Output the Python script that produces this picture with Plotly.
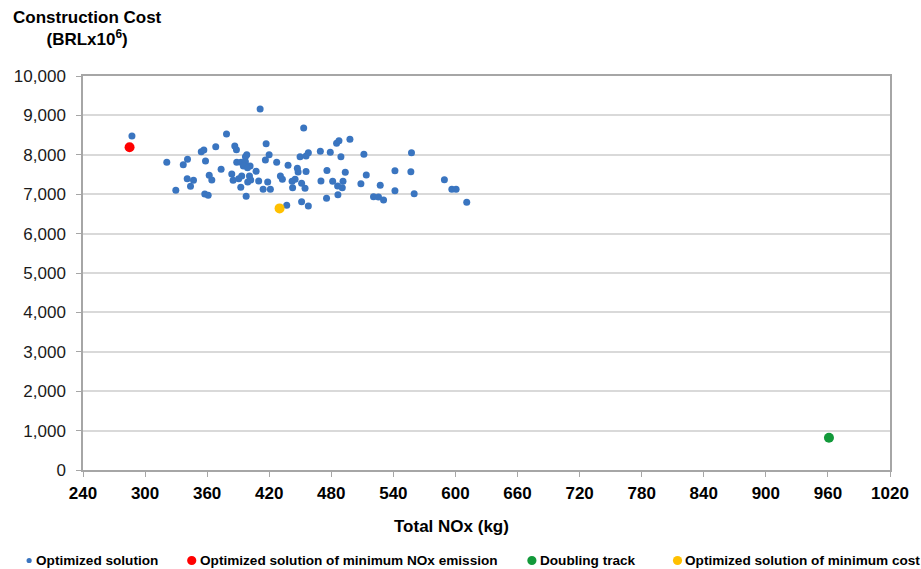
import plotly.graph_objects as go

# Optimized solutions: total NOx emission (kg) and construction cost (BRL x 10^6)
opt_nox = [
    287.3, 321.0, 341.0, 336.9, 354.3, 356.8, 358.4, 368.3, 340.7, 346.8,
    343.9, 362.0, 364.5, 329.7, 357.7, 361.0,
    411.2, 378.7, 386.7, 388.3, 417.0, 419.9, 416.3, 398.3, 397.0, 388.6,
    392.8, 397.0, 395.0, 401.5, 427.2, 438.2, 447.2, 447.9, 373.5, 383.8,
    385.1, 390.5, 393.4, 400.9, 402.1, 399.2, 407.3, 409.8, 418.5, 430.8,
    432.7, 442.1, 445.0, 442.6, 392.5, 414.1, 421.1, 397.7, 436.9, 399.0,
    453.3, 485.1, 487.4, 498.0, 449.8, 455.6, 457.8, 469.4, 479.0, 489.3,
    511.5, 455.6, 451.3, 454.6, 475.8, 470.0, 481.3, 486.1, 490.6, 491.3,
    493.5, 508.6, 513.8, 527.3, 486.4, 475.4, 451.3, 457.8, 520.8, 525.6,
    530.5,
    557.5, 541.5, 556.9, 589.3, 541.5, 560.1, 596.5, 600.6, 610.9,
]
opt_cost = [
    8477, 7810, 7886, 7750, 8080, 8122, 7843, 8206, 7394, 7352,
    7200, 7479, 7360, 7099, 7005, 6972,
    9162, 8528, 8223, 8130, 8282, 8003, 7868, 8003, 7952, 7810,
    7810, 7825, 7716, 7716, 7810, 7733, 7657, 7563, 7632, 7513,
    7352, 7394, 7462, 7462, 7360, 7310, 7580, 7335, 7310, 7462,
    7378, 7327, 7378, 7165, 7175, 7124, 7124, 6946, 6718, 7670,
    8680, 8292, 8358, 8393, 7952, 7970, 8054, 8088, 8063, 7952,
    8013, 7576, 7277, 7150, 7604, 7335, 7327, 7208, 7165, 7327,
    7556, 7267, 7487, 7226, 6987, 6896, 6810, 6700, 6937, 6929,
    6853,
    8054, 7596, 7571, 7368, 7090, 7013, 7124, 7124, 6794,
]

# Highlighted solutions
min_nox_nox, min_nox_cost = [285], [8190]
doubling_nox, doubling_cost = [961], [820]
min_cost_nox, min_cost_cost = [430], [6640]

series_names = [
    "Optimized solution",
    "Optimized solution of minimum NOx emission",
    "Doubling track",
    "Optimized solution of minimum cost",
]
series_colors = ["#3A75C0", "#FF0000", "#12993A", "#FFC000"]

x_ticks = list(range(240, 1021, 60))
y_ticks = list(range(0, 10001, 1000))

FONT = "Liberation Sans, Arial, sans-serif"

# Plot-area geometry in pixels (used to place the header and key)
W, H = 921, 569
L, R, T, B = 83, 29, 76, 99
PW, PH = W - L - R, H - T - B


def px_x(px):
    return (px - L) / PW


def px_y(py):
    return (H - B - py) / PH


fig = go.Figure()
fig.add_trace(go.Scatter(
    x=opt_nox, y=opt_cost, mode="markers", name=series_names[0],
    marker=dict(color=series_colors[0], size=7),
))
fig.add_trace(go.Scatter(
    x=min_nox_nox, y=min_nox_cost, mode="markers", name=series_names[1],
    marker=dict(color=series_colors[1], size=10),
))
fig.add_trace(go.Scatter(
    x=doubling_nox, y=doubling_cost, mode="markers", name=series_names[2],
    marker=dict(color=series_colors[2], size=10),
))
fig.add_trace(go.Scatter(
    x=min_cost_nox, y=min_cost_cost, mode="markers", name=series_names[3],
    marker=dict(color=series_colors[3], size=10),
))

annotations = [
    dict(
        xref="paper", yref="paper", x=px_x(88), y=px_y(29),
        xanchor="center", yanchor="middle", align="center",
        text="<b>Construction Cost<br>(BRLx10<sup>6</sup>)</b>",
        showarrow=False, font=dict(size=17, color="#000000"),
    ),
    dict(
        xref="paper", yref="paper", x=px_x(452), y=px_y(526),
        xanchor="center", yanchor="middle",
        text="<b>Total NOx (kg)</b>",
        showarrow=False, font=dict(size=17, color="#000000"),
    ),
]

# Single-row key below the axis title
key_dot_x = [29, 192, 533, 679]
key_text_x = [34, 198, 539, 684]
key_radius = [2.6, 4.6, 4.6, 4.6]
key_y = 560.5
shapes = []
for name, color, dx, tx, r in zip(series_names, series_colors, key_dot_x, key_text_x, key_radius):
    shapes.append(dict(
        type="circle", xref="paper", yref="paper",
        xsizemode="pixel", ysizemode="pixel",
        xanchor=px_x(dx), yanchor=px_y(key_y),
        x0=-r, x1=r, y0=-r, y1=r,
        fillcolor=color, line=dict(width=0),
    ))
    annotations.append(dict(
        xref="paper", yref="paper", x=px_x(tx), y=px_y(key_y),
        xanchor="left", yanchor="middle",
        text="<b>" + name + "</b>",
        showarrow=False, font=dict(size=13.6, color="#000000"),
    ))

fig.update_layout(
    width=W, height=H,
    margin=dict(l=L, r=R, t=T, b=B),
    paper_bgcolor="white", plot_bgcolor="white",
    font=dict(family=FONT, color="#000000"),
    showlegend=False,
    xaxis=dict(
        range=[240, 1020], tickvals=x_ticks,
        showgrid=False, zeroline=False,
        showline=True, linecolor="#A6A6A6", linewidth=1.5, mirror=True,
        ticks="outside", ticklen=5, tickcolor="#A6A6A6",
        ticklabelstandoff=2,
        tickfont=dict(size=17, weight="bold", color="#000000"),
    ),
    yaxis=dict(
        range=[0, 10000], tickvals=y_ticks, tickformat=",d",
        showgrid=True, gridcolor="#D9D9D9", gridwidth=1.5, zeroline=False,
        showline=True, linecolor="#A6A6A6", linewidth=1.5, mirror=True,
        ticks="outside", ticklen=5, tickcolor="#A6A6A6",
        ticklabelstandoff=7,
        tickfont=dict(size=17, color="#1A1A1A"),
    ),
    annotations=annotations,
    shapes=shapes,
)

fig.write_html("out.html")
